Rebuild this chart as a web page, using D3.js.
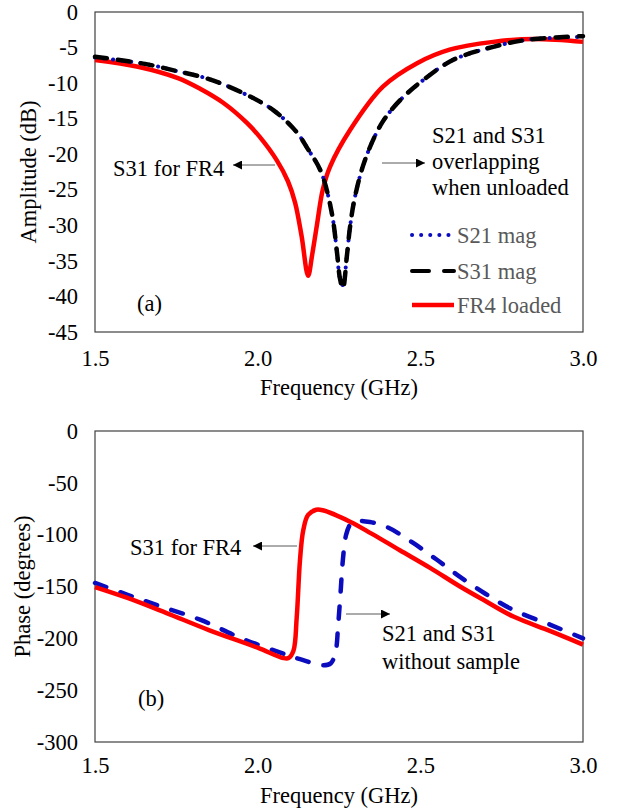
<!DOCTYPE html>
<html>
  <head>
    <script src="https://d3js.org/d3.v7.min.js"></script>
    <style>
      body { margin: 0; background: #fff; }
      svg, svg text { font-family: "Liberation Serif", Tinos, "Times New Roman", Times, "Noto Serif", "DejaVu Serif", FreeSerif, serif; font-size: 22.5px; fill: #000; }
      .frame { fill: none; stroke: #404040; stroke-width: 1.2px; }
      .axis .domain, .axis line { display: none; }
      .legend-text { fill: #595959 !important; }
      .arrow { stroke: #595959; stroke-width: 1px; }
    </style>
  </head>
  <body>
    <svg width="627" height="810" font-family="Liberation Serif, serif"></svg>
    <script>
      // (a) amplitude, dB
      const freqUnloaded = [1.50, 1.654, 1.746, 1.848, 1.955, 2.048, 2.12, 2.152, 2.195, 2.228, 2.244, 2.253, 2.262, 2.274, 2.284, 2.299, 2.33, 2.382, 2.438, 2.508, 2.60, 2.724, 2.83, 3.00];
      const s21Mag = [-6.4, -7.3, -8.25, -9.4, -11.4, -13.8, -16.9, -19.1, -22.5, -28.3, -33.9, -37.5, -38.4, -34.4, -30.2, -26.0, -20.8, -15.6, -12.4, -9.6, -6.75, -4.9, -3.9, -3.5];
      const s31Mag = [-6.3, -7.3, -8.25, -9.4, -11.4, -13.8, -16.9, -19.1, -22.5, -28.3, -33.9, -37.5, -38.9, -34.4, -30.2, -26.0, -20.8, -15.6, -12.4, -9.6, -6.75, -4.9, -3.9, -3.4];
      const freqFR4Mag = [1.50, 1.632, 1.755, 1.823, 1.895, 1.967, 2.007, 2.058, 2.093, 2.115, 2.135, 2.155, 2.168, 2.182, 2.20, 2.222, 2.284, 2.385, 2.49, 2.59, 2.724, 2.85, 3.00];
      const fr4Mag = [-6.75, -7.7, -9.3, -10.8, -12.8, -15.6, -17.6, -20.8, -23.8, -26.8, -31.5, -37.1, -34.0, -30.0, -25.0, -21.8, -16.6, -10.5, -7.2, -5.3, -4.2, -3.8, -4.2];

      // (b) phase, degrees
      const freqUnloadedPh = [1.50, 1.60, 1.70, 1.823, 1.95, 2.09, 2.14, 2.20, 2.225, 2.24, 2.247, 2.255, 2.262, 2.272, 2.285, 2.30, 2.345, 2.40, 2.478, 2.55, 2.622, 2.70, 2.786, 2.90, 3.00];
      const unloadedPhase = [-146.6, -158, -169, -182, -200, -216, -221, -226, -224, -212, -189, -155, -124, -100, -90, -87, -87.8, -93, -108, -124, -140.7, -157, -172.7, -187, -200];
      const freqFR4Ph = [1.50, 1.60, 1.72, 1.85, 2.00, 2.079, 2.095, 2.11, 2.12, 2.13, 2.14, 2.155, 2.18, 2.20, 2.284, 2.35, 2.437, 2.53, 2.622, 2.70, 2.786, 2.90, 3.00];
      const fr4Phase = [-150.5, -161, -175.6, -192, -209, -219, -219, -212, -180, -125, -96, -81, -76, -76.5, -87.5, -99, -115, -132, -150, -164, -179, -193, -206];

      const xTicks = [1.5, 2.0, 2.5, 3.0];
      const magTicks = [0, -5, -10, -15, -20, -25, -30, -35, -40, -45];
      const phaseTicks = [0, -50, -100, -150, -200, -250, -300];

      const serif = "'Liberation Serif', Tinos, 'Times New Roman', Times, 'DejaVu Serif', serif";
      const svg = d3.select("svg");
      const left = 95, right = 583;

      const x = d3.scaleLinear().domain([1.5, 3.0]).range([left, right]);
      const yMag = d3.scaleLinear().domain([-45, 0]).range([332, 12]);
      const yPh = d3.scaleLinear().domain([-300, 0]).range([742, 431]);

      // arrowhead
      svg.append("defs").append("marker")
        .attr("id", "head")
        .attr("viewBox", "0 0 10 10")
        .attr("refX", 10).attr("refY", 5)
        .attr("markerWidth", 9).attr("markerHeight", 9)
        .attr("markerUnits", "userSpaceOnUse")
        .attr("orient", "auto")
        .append("path").attr("d", "M0,0 L10,5 L0,10 Z").attr("fill", "#000");

      function drawPanel(y, ticks, xLabelY, titleY, yTitle, yTitleX) {
        svg.append("rect").attr("class", "frame")
          .attr("x", left).attr("y", y.range()[1])
          .attr("width", right - left).attr("height", y.range()[0] - y.range()[1]);

        svg.append("g").attr("class", "axis")
          .attr("transform", "translate(78,0)")
          .call(d3.axisLeft(y).tickValues(ticks).tickSize(0).tickPadding(0).tickFormat(d => String(d)));

        svg.append("g").attr("class", "axis")
          .attr("transform", `translate(0,${xLabelY})`)
          .call(d3.axisBottom(x).tickValues(xTicks).tickSize(0).tickPadding(0).tickFormat(d3.format(".1f")));

        svg.append("text")
          .attr("x", (left + right) / 2).attr("y", titleY)
          .attr("text-anchor", "middle")
          .text("Frequency (GHz)");

        const cy = (y.range()[0] + y.range()[1]) / 2;
        svg.append("text")
          .attr("transform", `translate(${yTitleX},${cy}) rotate(-90)`)
          .attr("text-anchor", "middle")
          .text(yTitle);
      }

      drawPanel(yMag, magTicks, 350, 395, "Amplitude (dB)", 36);
      drawPanel(yPh, phaseTicks, 757, 803, "Phase (degrees)", 30);

      function series(fx, vals, y, style) {
        const pts = fx.map((f, i) => [f, vals[i]]);
        const line = d3.line().x(d => x(d[0])).y(d => y(d[1])).curve(d3.curveCatmullRom.alpha(0.5));
        const p = svg.append("path").datum(pts)
          .attr("d", line)
          .attr("fill", "none");
        Object.entries(style).forEach(([k, v]) => p.attr(k, v));
      }

      const styles = {
        fr4: { stroke: "#ff0000", "stroke-width": 4.5, "stroke-linejoin": "round" },
        s31: { stroke: "#000000", "stroke-width": 4.5, "stroke-dasharray": "12 11", "stroke-linecap": "round" },
        s21: { stroke: "#0c0cbf", "stroke-width": 4, "stroke-dasharray": "0.1 9", "stroke-linecap": "round" },
        blueDash: { stroke: "#0c0cbf", "stroke-width": 4.5, "stroke-dasharray": "12 15", "stroke-linecap": "round" }
      };

      // panel (a)
      series(freqFR4Mag, fr4Mag, yMag, styles.fr4);
      series(freqUnloaded, s21Mag, yMag, styles.s21);
      series(freqUnloaded, s31Mag, yMag, styles.s31);

      // panel (b)
      series(freqUnloadedPh, unloadedPhase, yPh, styles.blueDash);
      series(freqFR4Ph, fr4Phase, yPh, styles.fr4);

      // legend (a)
      const legendItems = [
        { label: "S21 mag", style: styles.s21, y: 235 },
        { label: "S31 mag", style: { stroke: "#000", "stroke-width": 4, "stroke-dasharray": "17 15", "stroke-linecap": "round" }, y: 271 },
        { label: "FR4 loaded", style: styles.fr4, y: 305 }
      ];
      legendItems.forEach(it => {
        const l = svg.append("line").attr("x1", 412).attr("x2", 454).attr("y1", it.y).attr("y2", it.y);
        Object.entries(it.style).forEach(([k, v]) => l.attr(k, v));
        svg.append("text").attr("class", "legend-text")
          .attr("x", 457).attr("y", it.y + 8).text(it.label);
      });

      // annotations
      function note(lines, tx, ty, dy) {
        lines.forEach((t, i) => svg.append("text").attr("x", tx).attr("y", ty + i * dy).text(t));
      }
      function arrow(x1, x2, yy) {
        svg.append("line").attr("class", "arrow")
          .attr("x1", x1).attr("x2", x2).attr("y1", yy).attr("y2", yy)
          .attr("marker-end", "url(#head)");
      }

      note(["S31 for FR4"], 113, 176, 0);
      arrow(275, 233, 165);
      note(["S21 and S31", "overlapping", "when unloaded"], 432, 143, 26);
      arrow(382, 425, 163);
      note(["(a)"], 137, 311, 0);

      note(["S31 for FR4"], 130, 555, 0);
      arrow(297, 253, 546);
      note(["S21 and S31", "without sample"], 382, 641, 28);
      arrow(346, 390, 614);
      note(["(b)"], 138, 706, 0);

      svg.selectAll("text").style("font-family", serif).style("font-size", "22.5px");
    </script>
  </body>
</html>
